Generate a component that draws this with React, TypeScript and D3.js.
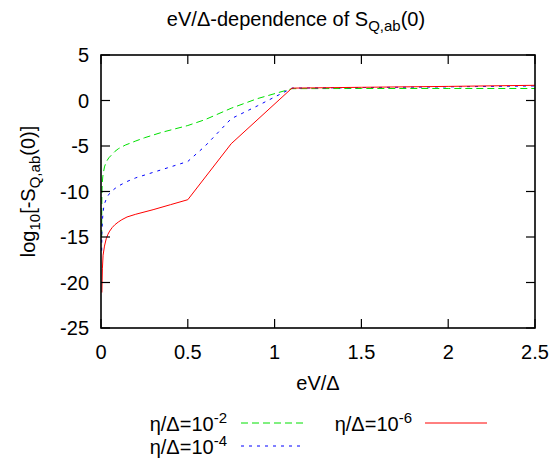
import React, { useEffect, useRef } from 'react';
import * as d3 from 'd3';

// eV/Delta dependence, log10 of -S_Q,ab(0), three broadening values
const eta2: [number, number][] = [
	[0.004, -15], [0.0045, -12], [0.005, -10.5], [0.007, -9.2], [0.01, -8.4], [0.015, -7.8],
	[0.02, -7.3], [0.03, -6.75], [0.045, -6.3], [0.06, -6.0], [0.08, -5.6],
	[0.1, -5.3], [0.14, -4.9], [0.2, -4.45], [0.25, -4.1], [0.35, -3.5], [0.5, -2.75],
	[0.6, -2.1], [0.75, -0.85], [0.9, 0.2], [1.1, 1.3], [1.5, 1.32], [2, 1.32], [2.5, 1.32],
];
const eta4: [number, number][] = [
	[0.004, -16.5], [0.005, -14.6], [0.008, -13.2], [0.012, -12.3],
	[0.016, -11.7], [0.023, -11.2], [0.035, -10.6], [0.05, -10.2], [0.075, -9.75],
	[0.1, -9.4], [0.15, -8.9], [0.2, -8.5], [0.3, -7.9], [0.4, -7.3], [0.5, -6.7],
	[0.6, -5.0], [0.75, -2.0], [0.9, -0.6], [1.1, 1.36], [1.5, 1.42], [2, 1.5], [2.5, 1.6],
];
const eta6: [number, number][] = [
	[0.005, -21.1], [0.008, -18.5], [0.012, -17], [0.02, -16], [0.03, -15.2], [0.04, -14.7],
	[0.05, -14.35], [0.065, -13.95], [0.08, -13.65], [0.1, -13.35], [0.12, -13.1],
	[0.15, -12.8], [0.2, -12.5], [0.3, -12.0], [0.4, -11.45], [0.5, -10.9], [0.75, -4.75],
	[1.1, 1.36], [1.5, 1.45], [2, 1.55], [2.5, 1.67],
];
const xTicks = [0, 0.5, 1, 1.5, 2, 2.5];
const yTicks = [5, 0, -5, -10, -15, -20, -25];

const series = [
	{ data: eta2, exp: '-2', color: '#00e000', dash: '7,4', col: 0, row: 0 },
	{ data: eta4, exp: '-4', color: '#0000ff', dash: '3,5', col: 0, row: 1 },
	{ data: eta6, exp: '-6', color: '#ff0000', dash: null, col: 1, row: 0 },
];

const W = 554;
const H = 459;
const margin = { left: 101, right: 19, top: 55, bottom: 131 };
const font = 'Liberation Sans, Arial, Helvetica, sans-serif';
const fs = 20;
const fsSub = 15;

export default function App() {
	const node = useRef<SVGSVGElement | null>(null);

	useEffect(() => {
		const svg = d3.select(node.current);
		svg.selectAll('*').remove();

		const x = d3.scaleLinear().domain([0, 2.5]).range([margin.left, W - margin.right]);
		const y = d3.scaleLinear().domain([-25, 5]).range([H - margin.bottom, margin.top]);

		const line = d3
			.line<[number, number]>()
			.x(d => x(d[0]))
			.y(d => y(d[1]));

		const plot = svg.append('g');
		series.forEach(s => {
			plot
				.append('path')
				.attr('d', line(s.data))
				.attr('fill', 'none')
				.attr('stroke', s.color)
				.attr('stroke-width', 1)
				.attr('stroke-dasharray', s.dash);
		});

		// ticks on all four sides, pointing inwards (gnuplot style)
		const tl = 9;
		const ax = svg.append('g').attr('stroke', '#000').attr('stroke-width', 1.2);
		xTicks.forEach(t => {
			ax.append('line').attr('x1', x(t)).attr('x2', x(t)).attr('y1', y(-25)).attr('y2', y(-25) - tl);
			ax.append('line').attr('x1', x(t)).attr('x2', x(t)).attr('y1', y(5)).attr('y2', y(5) + tl);
		});
		yTicks.forEach(t => {
			ax.append('line').attr('x1', x(0)).attr('x2', x(0) + tl).attr('y1', y(t)).attr('y2', y(t));
			ax.append('line').attr('x1', x(2.5)).attr('x2', x(2.5) - tl).attr('y1', y(t)).attr('y2', y(t));
		});
		svg
			.append('rect')
			.attr('x', x(0))
			.attr('y', y(5))
			.attr('width', x(2.5) - x(0))
			.attr('height', y(-25) - y(5))
			.attr('fill', 'none')
			.attr('stroke', '#000')
			.attr('stroke-width', 1.6);

		const txt = svg.append('g').attr('font-family', font).attr('font-size', fs).attr('fill', '#000');
		xTicks.forEach(t => {
			txt.append('text').attr('x', x(t)).attr('y', y(-25) + 31).attr('text-anchor', 'middle').text(String(t));
		});
		yTicks.forEach(t => {
			txt.append('text').attr('x', x(0) - 12).attr('y', y(t) + 7).attr('text-anchor', 'end').text(String(t));
		});

		// x label
		txt.append('text').attr('x', 318).attr('y', 390).attr('text-anchor', 'middle').text('eV/Δ');

		// title
		const title = txt.append('text').attr('x', 296).attr('y', 26).attr('text-anchor', 'middle');
		title.append('tspan').text('eV/Δ-dependence of S');
		title.append('tspan').attr('font-size', fsSub).attr('dy', 5).text('Q,ab');
		title.append('tspan').attr('dy', -5).text('(0)');

		// y label, rotated
		const yl = txt
			.append('text')
			.attr('transform', `translate(35, ${y(-10)}) rotate(-90)`)
			.attr('text-anchor', 'middle');
		yl.append('tspan').text('log');
		yl.append('tspan').attr('font-size', fsSub).attr('dy', 5).text('10');
		yl.append('tspan').attr('dy', -5).text('[-S');
		yl.append('tspan').attr('font-size', fsSub).attr('dy', 5).text('Q,ab');
		yl.append('tspan').attr('dy', -5).text('(0)]');

		// legend
		const colText = [227, 412];
		const colLine = [241, 425];
		const rowY = [423, 446];
		series.forEach(s => {
			const ly = rowY[s.row];
			const t = txt.append('text').attr('x', colText[s.col]).attr('y', ly + 8).attr('text-anchor', 'end');
			t.append('tspan').text('η/Δ=10');
			t.append('tspan').attr('font-size', fsSub).attr('dy', -8).text(s.exp);
			svg
				.append('line')
				.attr('x1', colLine[s.col])
				.attr('x2', colLine[s.col] + 62)
				.attr('y1', ly)
				.attr('y2', ly)
				.attr('stroke', s.color)
				.attr('stroke-width', 1)
				.attr('stroke-dasharray', s.dash);
		});
	}, []);

	return (
		<div>
			<svg
				ref={node}
				width={W}
				height={H}
				style={{ display: 'block', position: 'absolute', left: 0, top: 0 }}
			/>
		</div>
	);
}
